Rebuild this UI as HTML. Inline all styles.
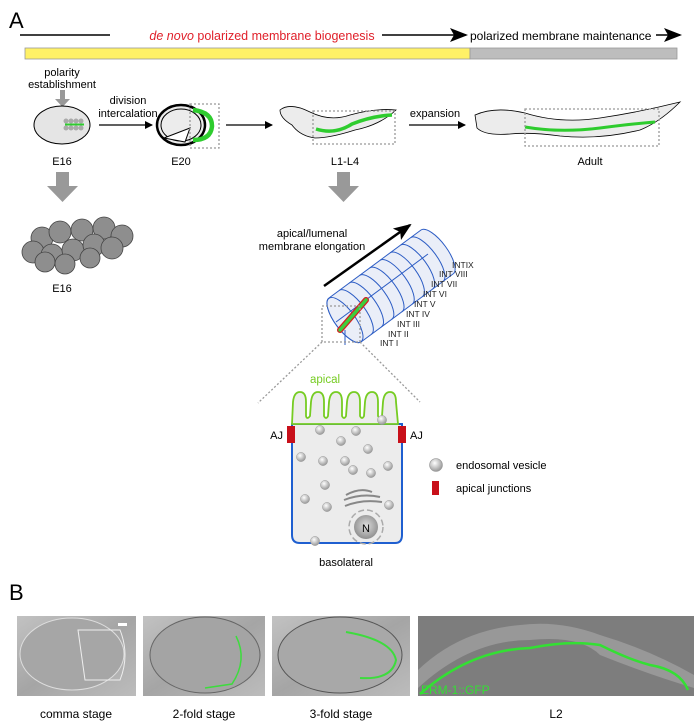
<!DOCTYPE html>
<html><head><meta charset="utf-8"><style>
html,body{margin:0;padding:0;background:#fff;}
svg{display:block;font-family:"Liberation Sans",Arial,sans-serif;}
</style></head><body>
<svg width="700" height="728" viewBox="0 0 700 728">
<defs>
<marker id="ah" markerWidth="8" markerHeight="8" refX="7" refY="4" orient="auto" markerUnits="userSpaceOnUse"><path d="M0,0 L8,4 L0,8 z" fill="#000"/></marker>
<marker id="ahb" markerWidth="18" markerHeight="14" refX="16" refY="7" orient="auto" markerUnits="userSpaceOnUse"><path d="M0,0 L18,7 L0,14 L4,7 z" fill="#000"/></marker>
<radialGradient id="ves" cx="40%" cy="35%" r="65%"><stop offset="0" stop-color="#fff"/><stop offset="1" stop-color="#999"/></radialGradient>
<radialGradient id="nuc" cx="50%" cy="45%" r="60%"><stop offset="0" stop-color="#ddd"/><stop offset="1" stop-color="#888"/></radialGradient>
<linearGradient id="ph" x1="0" y1="0" x2="1" y2="1"><stop offset="0" stop-color="#c2c2c2"/><stop offset=".5" stop-color="#a5a5a5"/><stop offset="1" stop-color="#bcbcbc"/></linearGradient>
<symbol id="v" viewBox="-6 -6 12 12"><circle r="5.5" fill="url(#ves)" stroke="#999" stroke-width=".6"/></symbol>
</defs>
<text x="9" y="28" font-size="22">A</text>
<line x1="20" y1="35" x2="110" y2="35" stroke="#000" stroke-width="1.5"/>
<text x="262" y="40" font-size="12.5" fill="#e0202a" text-anchor="middle"><tspan font-style="italic">de novo</tspan> polarized membrane biogenesis</text>
<line x1="382" y1="35" x2="466" y2="35" stroke="#000" stroke-width="1.5" marker-end="url(#ahb)"/>
<text x="470" y="40" font-size="12">polarized membrane maintenance</text>
<line x1="656" y1="35" x2="680" y2="35" stroke="#000" stroke-width="1.5" marker-end="url(#ahb)"/>
<rect x="25" y="48" width="445" height="11" fill="#fff166" stroke="#999" stroke-width=".8"/>
<rect x="470" y="48" width="207" height="11" fill="#bdbdbd" stroke="#999" stroke-width=".8"/>
<text x="62" y="76" font-size="11" text-anchor="middle">polarity</text>
<text x="62" y="88" font-size="11" text-anchor="middle">establishment</text>
<rect x="60" y="90" width="5" height="10" fill="#999"/><path d="M55,99 L70,99 L62.5,107z" fill="#999"/>
<ellipse cx="62" cy="125" rx="28" ry="19" fill="#e5e5e5" stroke="#000" stroke-width="1"/>
<g fill="#aaa"><circle cx="66" cy="121" r="2.5"/><circle cx="71" cy="121" r="2.5"/><circle cx="76" cy="121" r="2.5"/><circle cx="81" cy="121" r="2.5"/><circle cx="66" cy="128" r="2.5"/><circle cx="71" cy="128" r="2.5"/><circle cx="76" cy="128" r="2.5"/><circle cx="81" cy="128" r="2.5"/></g>
<line x1="65" y1="124.5" x2="84" y2="124.5" stroke="#2ecc2e" stroke-width="2"/>
<text x="128" y="104" font-size="11" text-anchor="middle">division</text>
<text x="128" y="117" font-size="11" text-anchor="middle">intercalation</text>
<line x1="99" y1="125" x2="152" y2="125" stroke="#000" stroke-width="1.2" marker-end="url(#ah)"/>
<text x="62" y="165" font-size="11" text-anchor="middle">E16</text>
<ellipse cx="181" cy="125" rx="24" ry="20" fill="#ececec" stroke="#000" stroke-width="2.5"/>
<ellipse cx="181" cy="125" rx="20" ry="16" fill="none" stroke="#000" stroke-width="1"/>
<path d="M193,110 Q212,112 212,126 Q211,140 193,140" fill="none" stroke="#2ecc2e" stroke-width="4.5"/>
<path d="M164,138 L190,128 L185,142z" fill="#fff" stroke="#000" stroke-width="1"/>
<rect x="190" y="104" width="29" height="44" fill="none" stroke="#999" stroke-width="1.3" stroke-dasharray="2,2"/>
<text x="181" y="165" font-size="11" text-anchor="middle">E20</text>
<line x1="226" y1="125" x2="272" y2="125" stroke="#000" stroke-width="1.2" marker-end="url(#ah)"/>
<path d="M280,110 Q290,102 310,112 Q330,122 350,115 Q375,108 396,110 Q380,125 355,130 Q330,138 315,138 Q300,136 292,125 Q280,118 280,110z" fill="#ececec" stroke="#000" stroke-width=".8"/>
<path d="M316,129 Q335,135 352,124 Q372,116 392,115" fill="none" stroke="#2ecc2e" stroke-width="3.5"/>
<rect x="313" y="111" width="82" height="33" fill="none" stroke="#999" stroke-width="1.3" stroke-dasharray="2,2"/>
<text x="345" y="165" font-size="11" text-anchor="middle">L1-L4</text>
<text x="435" y="117" font-size="11" text-anchor="middle">expansion</text>
<line x1="409" y1="125" x2="465" y2="125" stroke="#000" stroke-width="1.2" marker-end="url(#ah)"/>
<path d="M475,115 Q495,106 525,113 Q560,124 600,118 Q640,112 680,102 Q660,122 640,130 Q600,140 560,136 Q530,132 510,134 Q485,136 477,128z" fill="#ececec" stroke="#000" stroke-width=".8"/>
<path d="M525,127 Q560,133 600,128 Q630,124 655,122" fill="none" stroke="#2ecc2e" stroke-width="3"/>
<rect x="525" y="109" width="134" height="37" fill="none" stroke="#999" stroke-width="1.3" stroke-dasharray="2,2"/>
<text x="590" y="165" font-size="11" text-anchor="middle">Adult</text>
<rect x="56" y="172" width="13" height="15" fill="#999"/><path d="M47,186 L78,186 L62.5,202z" fill="#999"/>
<rect x="337" y="172" width="13" height="15" fill="#999"/><path d="M328,186 L359,186 L343.5,202z" fill="#999"/>
<g fill="#8e8e8e" stroke="#444" stroke-width=".8">
<circle cx="42" cy="238" r="11"/><circle cx="60" cy="232" r="11"/><circle cx="82" cy="230" r="11"/><circle cx="104" cy="228" r="11"/><circle cx="122" cy="236" r="11"/>
<circle cx="33" cy="252" r="11"/><circle cx="52" cy="255" r="11"/><circle cx="73" cy="250" r="11"/><circle cx="94" cy="245" r="11"/><circle cx="112" cy="248" r="11"/>
<circle cx="45" cy="262" r="10"/><circle cx="65" cy="264" r="10"/><circle cx="90" cy="258" r="10"/></g>
<text x="62" y="292" font-size="11" text-anchor="middle">E16</text>
<text x="312" y="237" font-size="11" text-anchor="middle">apical/lumenal</text>
<text x="312" y="250" font-size="11" text-anchor="middle">membrane elongation</text>
<line x1="324" y1="286" x2="410" y2="225" stroke="#000" stroke-width="2.5" marker-end="url(#ahb)"/>
<!-- cylinder -->
<g fill="#eaeef8" stroke="#2c5cc4" stroke-width="1">
<path d="M329,298 L421,230 A10 27 -36.5 0 1 453,274 L361,342 A10 27 -36.5 0 1 329,298z"/>
<ellipse cx="345" cy="320" rx="10" ry="27" transform="rotate(-36.5 345 320)"/>
<g fill="none">
<path d="M339.2,290.4 A10 27 -36.5 0 1 371.2,334.4"/>
<path d="M349.4,282.9 A10 27 -36.5 0 1 381.4,326.9"/>
<path d="M359.7,275.3 A10 27 -36.5 0 1 391.7,319.3"/>
<path d="M369.9,267.8 A10 27 -36.5 0 1 401.9,311.8"/>
<path d="M380.1,260.2 A10 27 -36.5 0 1 412.1,304.2"/>
<path d="M390.3,252.7 A10 27 -36.5 0 1 422.3,296.7"/>
<path d="M400.6,245.1 A10 27 -36.5 0 1 432.6,289.1"/>
<path d="M410.8,237.6 A10 27 -36.5 0 1 442.8,281.6"/>
<line x1="336" y1="322" x2="428" y2="254"/>
<line x1="345" y1="330" x2="345" y2="345"/>
</g></g>
<line x1="340" y1="330" x2="366" y2="300" stroke="#d42020" stroke-width="6" stroke-linecap="round"/>
<line x1="340" y1="330" x2="366" y2="300" stroke="#3ccf3c" stroke-width="3.5" stroke-linecap="round"/>
<g font-size="8.5" fill="#222">
<text x="380" y="346">INT I</text><text x="388" y="337">INT II</text><text x="397" y="327">INT III</text><text x="406" y="317">INT IV</text><text x="414" y="307">INT V</text><text x="423" y="297">INT VI</text><text x="431" y="287">INT VII</text><text x="439" y="277">INT VIII</text><text x="452" y="268">INTIX</text></g>
<rect x="322" y="306" width="38" height="36" fill="none" stroke="#999" stroke-width="1.3" stroke-dasharray="2,2"/>
<line x1="322" y1="342" x2="258" y2="403" stroke="#999" stroke-width="1.3" stroke-dasharray="2,2"/>
<line x1="360" y1="342" x2="420" y2="402" stroke="#999" stroke-width="1.3" stroke-dasharray="2,2"/>
<path d="M292,424 L292,535 Q292,543 300,543 L395,543 Q402,543 402,535 L402,424z" fill="#ececec" stroke="#1f5fd0" stroke-width="2"/>
<path d="M292,424 L293,402 Q294,392 300,392 Q306,392 306,402 L306,416 Q307,420 310,416 L311,402 Q312,392 318,392 Q324,392 324,402 L324,416 Q326,420 328,416 L329,402 Q330,392 336,392 Q342,392 342,402 L342,416 Q344,420 346,416 L347,402 Q348,392 354,392 Q360,392 360,402 L360,416 Q362,420 364,416 L365,402 Q366,392 372,392 Q378,392 378,402 L378,416 Q380,420 382,416 L383,402 Q384,392 390,392 Q396,392 396,402 L398,424z" fill="#ececec" stroke="#76cc22" stroke-width="1.8"/>
<text x="325" y="383" font-size="11.5" fill="#76cc22" text-anchor="middle">apical</text>
<rect x="287" y="426" width="8" height="17" fill="#c8101a"/><rect x="398" y="426" width="8" height="17" fill="#c8101a"/>
<text x="283" y="439" font-size="11" text-anchor="end">AJ</text><text x="410" y="439" font-size="11">AJ</text>
<g><use href="#v" x="315" y="425" width="10" height="10"/><use href="#v" x="351" y="426" width="10" height="10"/><use href="#v" x="377" y="415" width="10" height="10"/>
<use href="#v" x="336" y="436" width="10" height="10"/><use href="#v" x="363" y="444" width="10" height="10"/>
<use href="#v" x="296" y="452" width="10" height="10"/><use href="#v" x="318" y="456" width="10" height="10"/><use href="#v" x="340" y="456" width="10" height="10"/><use href="#v" x="348" y="465" width="10" height="10"/><use href="#v" x="366" y="468" width="10" height="10"/><use href="#v" x="383" y="461" width="10" height="10"/>
<use href="#v" x="320" y="480" width="10" height="10"/><use href="#v" x="300" y="494" width="10" height="10"/><use href="#v" x="322" y="502" width="10" height="10"/><use href="#v" x="384" y="500" width="10" height="10"/><use href="#v" x="310" y="536" width="10" height="10"/></g>
<path d="M346,495 Q360,487 372,492" fill="none" stroke="#888" stroke-width="2"/>
<path d="M344,500 Q362,493 380,497" fill="none" stroke="#888" stroke-width="2"/>
<path d="M345,506 Q362,499 382,502" fill="none" stroke="#888" stroke-width="2"/>
<circle cx="366" cy="527" r="17" fill="none" stroke="#aaa" stroke-width="1.5" stroke-dasharray="6,3"/>
<circle cx="366" cy="527" r="12" fill="url(#nuc)"/>
<text x="366" y="532" font-size="11" text-anchor="middle">N</text>
<text x="346" y="566" font-size="11" text-anchor="middle">basolateral</text>
<use href="#v" x="429" y="458" width="14" height="14"/>
<text x="456" y="469" font-size="11">endosomal vesicle</text>
<rect x="432" y="481" width="7" height="14" fill="#c8101a"/>
<text x="456" y="492" font-size="11">apical junctions</text>
<text x="9" y="600" font-size="22">B</text>
<rect x="17" y="616" width="119" height="80" fill="url(#ph)"/>
<ellipse cx="72" cy="654" rx="52" ry="36" fill="#a6a6a6" stroke="#ddd" stroke-width="1"/>
<path d="M78,630 L120,630 Q130,655 120,680 L85,680z" fill="none" stroke="#eee" stroke-width="1"/>
<rect x="118" y="623" width="9" height="3" fill="#fff"/>
<rect x="143" y="616" width="122" height="80" fill="url(#ph)"/>
<ellipse cx="205" cy="655" rx="55" ry="38" fill="#a4a4a4" stroke="#666" stroke-width="1"/>
<path d="M236,636 Q248,660 232,684 L205,688" fill="none" stroke="#3ddc3d" stroke-width="1.5"/>
<rect x="272" y="616" width="138" height="80" fill="url(#ph)"/>
<ellipse cx="340" cy="655" rx="62" ry="38" fill="#a8a8a8" stroke="#555" stroke-width="1"/>
<path d="M346,632 Q392,640 396,660 Q392,680 360,678" fill="none" stroke="#3ddc3d" stroke-width="2"/>
<rect x="418" y="616" width="276" height="80" fill="#7d7d7d"/>
<path d="M418,688 Q470,640 530,640 Q580,635 600,655 Q650,675 694,688 L694,675 Q650,650 600,635 Q560,620 520,625 Q460,630 418,670z" fill="#989898"/>
<path d="M420,694 Q470,650 530,648 Q570,640 600,645 Q630,660 650,665 Q680,670 688,690" fill="none" stroke="#33e033" stroke-width="2.5"/>
<text x="421" y="694" font-size="12" fill="#33e033">ERM-1::GFP</text>
<g font-size="12" text-anchor="middle">
<text x="76" y="718">comma stage</text><text x="204" y="718">2-fold stage</text><text x="341" y="718">3-fold stage</text><text x="556" y="718">L2</text></g>
</svg>
</body></html>
